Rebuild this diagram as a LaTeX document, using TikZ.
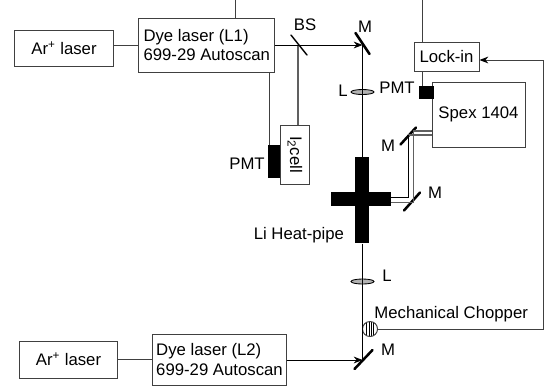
\documentclass[tikz,border=0pt]{standalone}
\usepackage{fontspec}
\setmainfont{Liberation Sans}
\usepackage{tikz}
\usetikzlibrary{
  arrows,
  calc,
  positioning,
  shapes,
  arrows.meta
}
\tikzset{
  box/.style={draw,gray!50!black,text=black,line width=0.7pt,inner sep=0pt},
  beam/.style={line width=0.6pt,black},
  greybeam/.style={line width=0.8pt,gray!75!black},
  wire/.style={line width=0.7pt,gray!50!black},
  tip/.style={-{Stealth[length=2.2mm,width=1.7mm,black]}},
  mirror/.style={line width=1.8pt,line cap=round,black},
  lens/.style={draw,ellipse,fill=gray!60,line width=0.6pt,inner sep=0pt,minimum width=0.575cm,minimum height=0.125cm},
  pmt/.style={fill=black,inner sep=0pt}
}
\begin{document}
\begin{tikzpicture}[x=0.025cm,y=-0.025cm,font=\fontsize{11.9}{14}\selectfont]
  \useasboundingbox (0, 0) rectangle (553, 391);

  \node[box,minimum width=2.45cm,minimum height=0.9cm] at (64, 48) (ArTop) {\raisebox{-2.8pt}{Ar\textsuperscript{+} laser}};
  \node[box,align=left,minimum width=3.39cm,minimum height=1.35cm] at (206.8, 45) (DyeTop) {Dye laser (L1)\\699-29 Autoscan};
  \node[box,minimum width=2.43cm,minimum height=0.925cm] at (68.5, 359.5) (ArBottom) {Ar\textsuperscript{+} laser};
  \node[box,align=left,minimum width=3.33cm,minimum height=1.275cm] at (219.5, 359.5) (DyeBottom) {Dye laser (L2)\\699-29 Autoscan};
  \node[box,minimum width=1.625cm,minimum height=0.725cm] at (446.5, 56.5) (LockIn) {\raisebox{-2.5pt}{Lock-in}};
  \node[box,minimum width=2.325cm,minimum height=1.625cm] at (478.5, 114.5) (Spex) {Spex 1404};
  \node[box,rotate=-90,minimum width=1.475cm,minimum height=0.725cm] at (294.5, 154.5) (Cell) {\raisebox{2.5pt}{I\textsubscript{2}cell}};
  \node[pmt,minimum width=0.3cm,minimum height=0.825cm] at (274, 161.5) (PmtCell) {};
  \node[pmt,minimum width=0.375cm,minimum height=0.325cm] at (426.5, 92.5) (PmtSpex) {};
  \node[pmt,minimum width=0.36cm,minimum height=2.16cm] at (362.2, 200) (PipeV) {};
  \node[pmt,minimum width=1.51cm,minimum height=0.335cm] at (361, 199) (PipeH) {};
  \node[lens] at (362.5, 92) (LensTop) {};
  \node[lens] at (362.5, 281.5) (LensBottom) {};
  \node[draw,circle,gray!50!black,line width=0.7pt,minimum size=0.375cm,inner sep=0pt,
    path picture={\foreach \dx in {-0.09,-0.03,0.03,0.09}
      \draw[line width=0.4pt,black] ([xshift=\dx cm] path picture bounding box.north) -- ([xshift=\dx cm] path picture bounding box.south);}]
    at (370, 329) (Chopper) {};

  \coordinate (SplitTop) at (298, 45);
  \coordinate (MirrorTop) at (362.5, 45);
  \coordinate (MirrorBottom) at (362.5, 360);
  \coordinate (MirrorUp) at (408, 135.5);
  \coordinate (MirrorLow) at (412, 201.5);
  \coordinate (TopA) at (235, 0);
  \coordinate (TopB) at (422, 0);
  \coordinate (TapCell) at (269, 0);
  \coordinate (Corner) at (543, 60);
  \coordinate (UpOuter) at (413.3, 131);
  \coordinate (UpInner) at (408.3, 135);
  \coordinate (LowOuter) at (413.3, 202.3);
  \coordinate (LowInner) at (408.3, 197.7);

  \draw[wire] (ArTop.east |- DyeTop.west) -- (DyeTop.west);
  \draw[wire] (ArBottom.east) -- (DyeBottom.west);
  \draw[wire] (TopA) -- (TopA |- DyeTop.north);
  \draw[wire] (TopB) -- (TopB |- LockIn.north);
  \draw[wire] (TopB |- LockIn.south) -- (TopB |- PmtSpex.north);
  \draw[wire] (TapCell |- PmtCell.north) -- (TapCell |- DyeTop.south);
  \draw[greybeam] (SplitTop) -- (SplitTop |- Cell.west);
  \draw[tip,beam] (DyeTop.east |- MirrorTop) -- (MirrorTop);
  \draw[tip,beam] (DyeBottom.east |- MirrorBottom) -- (MirrorBottom);
  \draw[beam] (MirrorTop) -- (MirrorTop |- PipeV.north);
  \draw[beam] (MirrorTop |- PipeV.south) -- (MirrorBottom);
  \draw[tip,wire] (Chopper.east) -- (Corner |- Chopper.east) -- (Corner) -- (Corner -| LockIn.east);

  \draw[mirror] ([shift={(-7,-12)}] MirrorTop) -- ([shift={(7,9)}] MirrorTop);
  \draw[mirror,line width=1pt] ([shift={(-7,-10)}] SplitTop) -- ([shift={(9,10)}] SplitTop);
  \draw[mirror] ([shift={(-8,9)}] MirrorBottom) -- ([shift={(10,-10)}] MirrorBottom);
  \draw[mirror] ([shift={(-7.5,9)}] MirrorUp) -- ([shift={(8,-8)}] MirrorUp);
  \draw[mirror] ([shift={(-8,9)}] MirrorLow) -- ([shift={(8,-9)}] MirrorLow);

  \draw[greybeam] (Spex.west |- UpOuter) -- (UpOuter) -- (LowOuter) -- (PipeH.east |- LowOuter);
  \draw[greybeam] (Spex.west |- UpInner) -- (UpInner);
  \draw[beam] (UpInner) -- (LowInner) -- (PipeH.east |- LowInner);

  \node at (305, 25) (LabelSplit) {BS};
  \node at (365, 27) (LabelTop) {M};
  \node at (343, 91) (LabelLensTop) {L};
  \node at (397, 88) (LabelPmtSpex) {PMT};
  \node at (247, 164) (LabelPmtCell) {PMT};
  \node at (388, 146) (LabelUp) {M};
  \node at (435, 193) (LabelLow) {M};
  \node[anchor=east] at (349, 235) (LabelPipe) {Li Heat-pipe};
  \node at (387, 276) (LabelLensBottom) {L};
  \node[anchor=west] at (369.5, 314) (LabelChopper) {Mechanical Chopper};
  \node at (388, 350) (LabelBottom) {M};
\end{tikzpicture}
\end{document}
